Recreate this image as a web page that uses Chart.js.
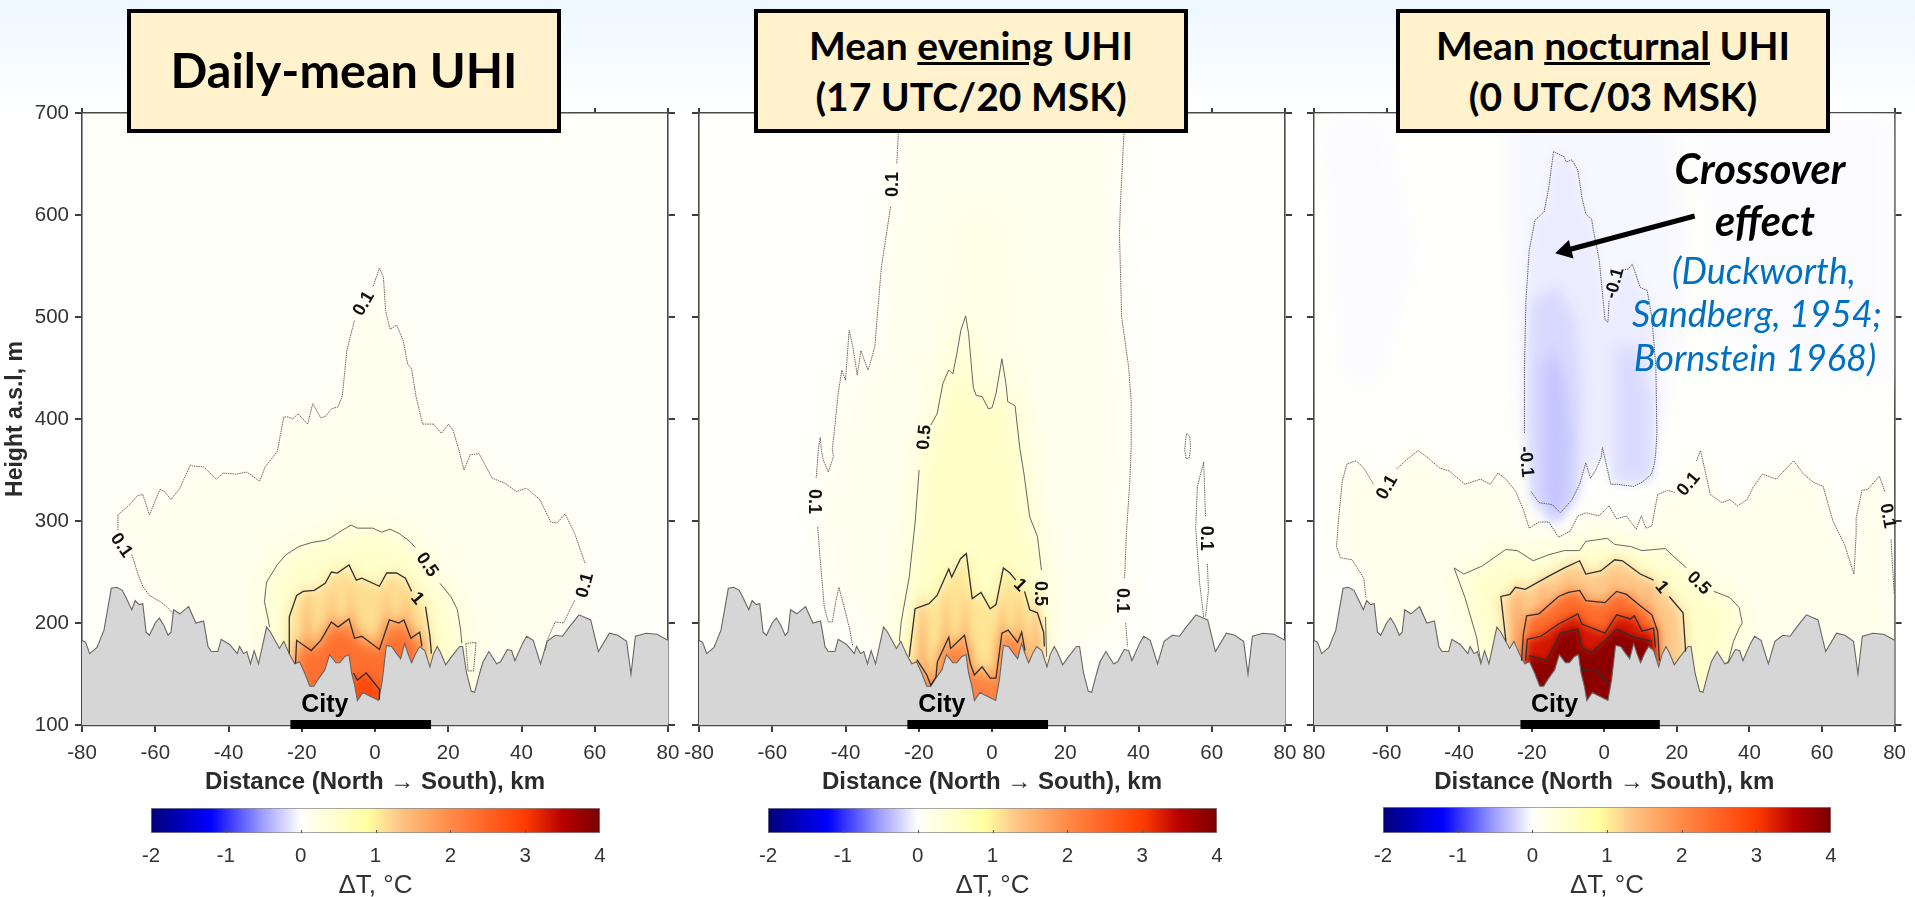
<!DOCTYPE html>
<html>
<head>
<meta charset="utf-8">
<title>UHI cross-sections</title>
<script src="https://cdn.jsdelivr.net/npm/chart.js@4"></script>
<style>
  html, body { margin: 0; padding: 0; width: 1915px; height: 897px; overflow: hidden;
    background: linear-gradient(#eef7ff 0, #ffffff 115px); }
  canvas { position: absolute; }
  .title { position: absolute; top: 9px; height: 116px; width: 426px; box-sizing: content-box;
    border: 4px solid #000; background: #fff2cc; color: #000; text-align: center;
    font: bold 39px/51px Lato, sans-serif; display: flex; align-items: center; justify-content: center; }
  .note { position: absolute; white-space: nowrap; transform: translate(-50%, -50%); font-family: Lato, sans-serif; font-style: italic; }
  .note.big { font-weight: bold; font-size: 41.5px; color: #000; }
  .note.ref { font-size: 36px; color: #0070c0; }
</style>
</head>
<body>
<script>
// ---- shared axes ----
const xTicks = [-80, -60, -40, -20, 0, 20, 40, 60, 80];
const xLabelsDaily = ["-80", "-60", "-40", "-20", "0", "20", "40", "60", "80"];
const xLabelsEvening = ["-80", "-60", "-40", "-20", "0", "20", "40", "60", "80"];
const xLabelsNight = ["80", "-60", "-40", "-20", "0", "20", "40", "60", "80"];
const yTicks = [100, 200, 300, 400, 500, 600, 700];
const cbTicks = [-2, -1, 0, 1, 2, 3, 4];

// ---- colour scale of the bar ----
const cbStops = [-2, -1.2, -0.5, 0, 0.1, 0.5, 0.9, 1.3, 2, 3, 3.5, 4];
const cbColors = ["#00007a", "#0000ff", "#a0a0ff", "#ffffff", "#fffff0", "#ffffcc", "#ffffa0", "#fdc888", "#ff8a48", "#ff3c00", "#b80000", "#7a0000"];

// ---- terrain (km, m a.s.l.) ----
const terrain = [[-80,183],[-79,181],[-77.9,170],[-75.9,176],[-74,193],[-72,234],[-70.5,235],[-69,232],[-67.6,222],[-66.4,213],[-65.5,222],[-64.4,218],[-63.4,219],[-62.5,191],[-61.6,188],[-60,200],[-58.9,205],[-57.7,198],[-56.5,188],[-55.7,191],[-55,213],[-53.3,209],[-50.9,216],[-48.9,200],[-46.8,202],[-45.6,177],[-44.7,172],[-42.9,172],[-42,184],[-39.7,179],[-37.6,170],[-37,177],[-35.9,170],[-35,172],[-34,160],[-33,173],[-31.8,160],[-29.6,196],[-28.5,191],[-26.1,175],[-24.9,182],[-23.3,169],[-21.9,160],[-20.6,162],[-19.2,151],[-17.8,138],[-16.7,138],[-15.3,146],[-13.7,154],[-12.4,169],[-10.7,161],[-9.6,161],[-8.3,167],[-7.1,169],[-6.4,151],[-5.5,138],[-4.8,124],[-3.3,132],[-2.3,130],[-0.6,127],[1,124],[2,144],[3.1,178],[4.5,177],[5.9,170],[7,165],[8.1,180],[9,170],[10,161],[11.1,170],[12.2,177],[13.6,173],[15,157],[15.9,169],[17,177],[17.9,171],[19.3,159],[20.9,167],[23.1,177],[23.9,177],[25,151],[26.3,133],[27.2,132],[28.6,151],[29.5,162],[31.1,172],[33.2,160],[34.3,162],[36.1,174],[37.3,173],[38.2,163],[40.3,180],[41.4,187],[43.2,183],[45.2,160],[47,182],[49.2,188],[51.2,187],[53,196],[55.7,208],[58.9,203],[61,172],[64,190],[66.3,188],[68.7,182],[69.9,150],[71.1,187],[74,190],[77,189],[80,183]];
const cityBar = [[-23.1,100.4],[15.3,100.4]];
const cityLabel = [["City", -13.7, 119.5]];

// ---- contours, daily mean (null = gap for the label) ----
const dailyC01 = [[-55.1,209],[-56.9,216],[-58.7,221],[-61.6,227],[-63.4,236],[-64.8,249],[-66.4,267],null,[-70.2,291],[-70.2,306],[-67,316],[-64.8,325],[-63.4,326],[-61.6,306],[-58.7,331],[-57.5,329],[-55.7,321],[-53.3,332],[-50.4,355],[-49.8,354],[-46.8,353],[-43.3,341],[-41.5,347],[-37.9,346],[-35,348],[-31.5,339],[-30,353],[-26.7,368],[-24.9,402],[-23.7,402],[-22.5,400],[-21,405],[-18.4,395],[-17,415],[-14.8,401],[-13.4,403],[-11.9,410],[-10.1,412],[-8.9,423],[-7.7,467],[-6.5,484],[-5.6,497],null,[-0.5,530],[1.2,548],[2.3,539],[2.9,506],[4.1,488],[5.9,492],[7.7,477],[8.9,454],[10,449],[11.2,422],[13,395],[16,395],[18.1,386],[20.1,395],[21.3,389],[22.8,371],[24.3,350],[26,365],[28.4,366],[32,342],[35.5,337],[38.5,329],[41.4,332],[45,321],[48,299],[49.7,298],[51.9,307],[54.5,288],[57.4,258],null,[54.5,222],[52.7,209],[51.5,200],[49.2,201],[47,183],[46.5,173]];
const dailyC05 = [[-28.8,196],[-29.3,206],[-30.2,221],[-29.6,240],[-26.7,257],[-24.3,267],[-20.8,275],[-17.2,279],[-13.6,281],[-11.9,284],[-8.9,291],[-6.5,296],[-4.8,293],[-0.6,293],[1.8,289],[4.1,292],[6.5,288],[9.5,280],[11,274],null,[17.7,239],[20.7,226],[22.5,213],[23.4,193],[23.7,180]];
const dailyC05b = [[24.8,180],[25.4,153],[26.9,153],[27.6,181],[24.8,180]];
const dailyC1 = [[-23.4,170],[-23.4,206],[-21.4,227],[-19.6,231],[-16.6,232],[-13.6,239],[-11.9,250],[-10.3,249],[-7.1,257],[-5.1,242],[-3.6,244],[1.2,236],[3.2,249],[5.9,249],[8.3,244],[10,231],null,[13.8,216],[15,187],[15.4,170]];
const dailyC2 = [[-21.7,160],[-21.4,183],[-17.4,173],[-14.8,183],[-11.9,201],[-10.1,196],[-7.1,204],[-5.6,185],[-3.6,187],[1.2,174],[3.9,203],[6.5,200],[7.9,203],[9.8,185],[12.2,191],[12.8,177]];
const dailyC3 = [[-5.9,151],[-4.8,144],[-2.4,151],[1.2,135],[1.2,125]];
const dailyStripes = [-18.5, -12, -6.5, 3, 8.5];
const dailyLabels = [["0.1",-3,513,-60],["0.1",-69.3,276,55],["0.5",14.2,257,55],["1",11.5,224,50],["0.1",57.4,237,-75]];

// ---- contours, evening ----
const eveningC01a = [[-25.5,700],[-25.6,678],[-26,650],null,[-27.7,608],[-29.1,575],[-30.2,549],[-31.2,506],[-32,471],[-33.4,453],[-33.9,448],[-35.8,467],[-36.8,443],[-38,471],[-39,487],[-40,438],[-41,448],[-42,425],[-43.1,386],[-43.6,371],[-43.3,363],[-44.7,348],[-46.1,360],[-46.6,370],[-46.9,382],[-47.4,371],[-48,342],null,[-47.6,294],[-46.9,262],[-45.8,216],[-44.7,201],[-43.6,201],[-42.6,222],[-41.8,235],[-40.4,216],[-38.8,193],[-38,177]];
const eveningC01b = [[36.2,700],[36,678],[35.1,614],[34.8,582],[35.4,500],[37.3,451],[38,418],[38,371],[37.6,337],[36.7,288],[36.2,244],null,[36.5,200],[37,177]];
const eveningC01c = [[53.1,386],[54,383],[54.2,372],[53.9,362],[53,361],[52.6,370],[53.1,386]];
const eveningC01d = [[57.8,206],[56.7,239],[55.6,294],[56.1,334],[57.8,358],[58.3,304],null,[58.8,258],[59.1,232],[58.3,206]];
const eveningC05 = [[-25.3,182],[-24.8,201],[-22.6,245],[-21,298],[-19.9,350],null,[-16.7,394],[-15,405],[-13.4,435],[-11.8,448],[-10.7,444],[-9.6,464],[-8.5,487],[-7.2,501],[-6.4,484],[-5.1,431],[-4.3,423],[-2.7,422],[-1,410],[0,411],[1.1,425],[2.7,459],[3.8,435],[4.3,417],[6.3,413],[7.6,371],[8.7,347],[10.3,304],[12.4,285],[13.5,252],null,[14.6,206],[14.9,167]];
const eveningC1 = [[-22.6,167],[-21,214],[-17.2,219],[-15,227],[-11.8,253],[-11,245],[-8.6,263],[-7,268],[-5.4,224],[-3,230],[-0.5,214],[1.1,218],[3.1,254],[4.9,249],[6.5,242],null,[8.9,231],[10.3,213],[12.4,210],[14.1,191],[14.3,177]];
const eveningC2 = [[-20.5,164],[-17.8,149],[-16.7,139],[-15.3,147],[-14.9,162],[-11.8,186],[-11.3,175],[-7.5,188],[-5.9,160],[-4.8,149],[-2.7,157],[-0.5,146],[1.1,146],[2.7,190],[4.4,193],[7,181],[8.1,191],[9,173]];
const eveningColumn = [[-14,620],[7,620],[14,350],[15,150],[-23,150],[-20,350]];
const eveningStripes = [-19, -12.5, -7.5, 3, 7.5, 12];
const eveningLabels = [["0.1",-26.9,630,-90],["0.5",-18.4,382,-85],["0.1",-48.5,319,90],["0.5",13.2,229,90],["1",7.6,237,45],["0.1",35.6,222,90],["0.1",58.3,283,90]];

// ---- contours, night ----
const nightCm01 = [[-14,662],[-15.3,627],[-16.6,603],[-19.1,595],[-20.7,565],[-21.6,516],[-22,451],[-22,386],null,[-20.2,329],[-18,318],[-14.3,316],[-12.1,308],[-8.9,321],[-6.8,336],[-5.1,357],[-3.8,342],[-2.5,349],[-0.9,362],[-0.5,372],[1.8,336],[3.4,336],[8,334],[10.4,338],[13,346],[13.8,356],[14.2,368],[14.5,386],[14.2,451],[13.1,500],[11.8,526],[9.9,529],[7.7,552],[6.6,547],[5,546],null,[1.3,516],[1,495],[0.2,497],[-0.3,516],[-1.4,556],[-3,585],[-3.5,596],[-5.1,601],[-6.2,618],[-7.3,644],[-8.9,654],[-10.5,652],[-11,657],[-14,662]];
const nightC01 = [[-65.7,225],[-66.3,244],[-69.5,262],[-72.7,264],[-73.8,275],[-73.2,303],[-72.2,339],[-70.9,356],[-68.4,359],[-66.3,352],[-63.6,336],null,[-57.2,351],[-54.5,360],[-51.3,369],[-48.6,362],[-45.4,352],[-42.7,349],[-38.4,336],[-34.1,341],[-31.4,336],[-29.3,347],[-27.1,341],[-24.4,329],[-22.3,311],[-20.7,293],[-18,299],[-15.3,299],[-12.6,284],[-9.4,290],[-7.3,305],[-5.1,308],[-1.4,305],[1.3,315],[3.4,302],[6.1,305],[8.8,292],[10.2,305],[11.5,293],[13.1,295],[14.7,326],[17.4,330],[19.5,328],null,[25.4,359],[26.5,369],[27.6,352],[29.2,326],[32.4,318],[34.6,321],[36.7,315],[39.4,321],[41,333],[43.6,346],[47.4,341],[49.5,349],[52.2,359],[54.9,346],[57.6,338],[60.3,334],[63,300],[66.2,277],[68.8,248],[69.4,287],[69.4,303],[71,330],[72.6,331],[75.8,344],[77.4,328],null,[79,282],[79.9,228]];
const nightC05 = [[-34.1,163],[-35.2,186],[-38.4,225],[-41.4,254],[-38.7,248],[-33.6,256],[-30.4,264],[-27.2,272],[-24,271],[-19.6,261],[-15.3,267],[-11,271],[-6.8,271],[-5.1,280],[0.8,283],[2.9,277],[7.2,275],[10.4,271],[16.8,273],[19.5,264],[22.7,254],null,[30.2,231],[34.6,225],[37.2,215],[38,200],[37.2,195],[35.6,182],[34,160]];
const nightC1 = [[-27.1,182],[-28.5,226],[-26,228],[-24.5,235],[-21.8,233],[-15.3,246],[-11,254],[-6.8,261],[-5.1,248],[-1,251],[2.9,262],[5,261],[9.9,248],[13.6,242],null,[17.9,226],[21.7,210],[22.4,172]];
const nightC2 = [[-22.8,163],[-22.3,189],[-21.4,207],[-18,209],[-12.6,226],[-9.9,230],[-6.8,232],[-5.1,222],[0.2,220],[3.4,231],[6.1,228],[9.9,217],[13.1,208],[14.7,192],[15.2,163]];
const nightC3 = [[-21.7,163],[-21.2,184],[-17.5,187],[-12.6,199],[-7.3,209],[-6.2,199],[0.2,190],[3.4,208],[7.2,204],[8.3,207],[10.4,192],[13.6,195],[14.1,176]];
const nightC4 = [[-20.7,168],[-15.9,163],[-12.1,190],[-7.3,194],[-6.2,176],[-3.5,171],[-0.3,181],[3.4,194],[8.3,186],[13.1,182]];
const nightC4b = [[-6.2,153],[-2.5,155],[1.3,140]];
const nightWisp = [[-26,700],[-26,600],[-23,380],[14,380],[22,500],[20,680],[10,700]];
const nightWispLeft = [[-78,700],[-60,700],[-52,560],[-62,430],[-72,430]];
const nightWispRight = [[26,700],[80,700],[80,430],[60,440],[32,480]];
const nightCold1 = [[-20,515],[-13,530],[-8,500],[-6,430],[-7,325],[-14,295],[-20,320],[-21,420]];
const nightCold2 = [[-17,450],[-14,470],[-11,440],[-9,380],[-10,320],[-13,300],[-17,325]];
const nightCold3 = [[3,470],[9,470],[13,420],[13,340],[3,340]];
const nightStripes = [-24, -17, -10, 3, 8, 12];
const nightLabels = [["-0.1",2.9,533,-75],["-0.1",-21.6,358,85],["0.1",-59.8,333,-60],["0.1",23.3,336,-50],["0.5",26,239,45],["1",15.8,235,50],["0.1",78,305,80]];

// ---- helpers ----
function hexRgb(h) {
  return [1, 3, 5].map(i => parseInt(h.slice(i, i + 2), 16));
}

function cmap(v) {
  let i = 0;
  while (i < cbStops.length - 2 && v > cbStops[i + 1]) i++;
  const t = Math.min(1, Math.max(0, (v - cbStops[i]) / (cbStops[i + 1] - cbStops[i])));
  const a = hexRgb(cbColors[i]), b = hexRgb(cbColors[i + 1]);
  return `rgb(${a.map((c, k) => Math.round(c + (b[k] - c) * t)).join(",")})`;
}

const toPts = arr => arr.map(p => p ? { x: p[0], y: p[1] } : { x: NaN, y: NaN });

// filled zone of the temperature field; open contours are closed along the plot floor
function zone(arr, value, blur, closeToFloor = true) {
  const pts = arr.filter(Boolean);
  const data = closeToFloor ? pts.concat([[pts[pts.length - 1][0], 100], [pts[0][0], 100]]) : pts;
  return { data: toPts(data), showLine: false, pointRadius: 0, zoneValue: value, zoneBlur: blur };
}

// warmer vertical streaks seen under the city, tapering upwards
function stripes(centres, top, value) {
  return centres.map(k => zone([[k, top], [k + 1.3, 170], [k + 1.3, 140], [k - 1.3, 140], [k - 1.3, 170]], value, 4, false));
}

function contour(arr, level) {
  const thin = Math.abs(level) < 1;
  return {
    data: toPts(arr), showLine: true, pointRadius: 0, spanGaps: false, tension: 0,
    borderColor: thin ? "#555" : "#2f2f2f",
    borderWidth: thin ? 0.9 : 1.3,
    borderDash: Math.abs(level) < 0.5 ? [1.5, 0.8] : []
  };
}

const zonePlugin = {
  id: "zones",
  beforeDraw(chart) {
    const { ctx, chartArea: a } = chart;
    ctx.save();
    ctx.fillStyle = cmap(chart.options.baseValue);
    ctx.fillRect(a.left, a.top, a.width, a.height);
    ctx.restore();
  },
  beforeDatasetDraw(chart, args) {
    const ds = chart.data.datasets[args.index];
    if (ds.zoneValue === undefined) return;
    const { ctx, chartArea: a, scales } = chart;
    ctx.save();
    ctx.beginPath();
    ctx.rect(a.left, a.top, a.width, a.height);
    ctx.clip();
    ctx.filter = `blur(${ds.zoneBlur}px)`;
    ctx.fillStyle = cmap(ds.zoneValue);
    ctx.beginPath();
    ds.data.forEach((p, i) => {
      const px = scales.x.getPixelForValue(p.x), py = scales.y.getPixelForValue(p.y);
      if (i === 0) ctx.moveTo(px, py); else ctx.lineTo(px, py);
    });
    ctx.closePath();
    ctx.fill();
    ctx.restore();
  }
};

const labelPlugin = {
  id: "contourLabels",
  afterDatasetsDraw(chart) {
    const { ctx, scales } = chart;
    ctx.save();
    ctx.textAlign = "center";
    ctx.textBaseline = "middle";
    ctx.fillStyle = "#111";
    ctx.font = 'bold 18px "Liberation Sans"';
    chart.options.contourLabels.forEach(([t, x, y, ang]) => {
      ctx.save();
      ctx.translate(scales.x.getPixelForValue(x), scales.y.getPixelForValue(y));
      ctx.rotate(ang * Math.PI / 180);
      ctx.fillText(t, 0, 0);
      ctx.restore();
    });
    ctx.font = 'bold 25px "Liberation Sans"';
    ctx.fillStyle = "#000";
    cityLabel.forEach(([t, x, y]) => ctx.fillText(t, scales.x.getPixelForValue(x), scales.y.getPixelForValue(y)));
    ctx.restore();
  }
};

const AXIS_FONT = '"Liberation Sans"';

function panelChart(cfg) {
  const cv = document.createElement("canvas");
  cv.width = cfg.width; cv.height = 707;
  cv.style.left = cfg.left + "px"; cv.style.top = "92px";
  document.body.appendChild(cv);

  const terrainDs = {
    data: toPts(terrain), showLine: true, pointRadius: 0, tension: 0, fill: "start", clip: 0,
    backgroundColor: "#d6d6d6", borderColor: "#666", borderWidth: 1.1
  };
  const cityDs = {
    data: toPts(cityBar), showLine: true, pointRadius: 0, borderColor: "#000",
    borderWidth: 9, borderCapStyle: "butt", clip: false
  };
  // listed bottom to top, Chart.js paints the highest order first
  const stack = [...cfg.zones, terrainDs, ...cfg.lines, ...(cfg.extra || []), cityDs];
  stack.forEach((d, i) => { d.order = stack.length - i; });

  const tickGrid = { drawOnChartArea: false, tickLength: 7, color: "#3c3c3c", lineWidth: 2 };
  const frame = { color: "#4a4a4a", width: 1.6 };

  return new Chart(cv, {
    type: "scatter",
    data: { datasets: stack },
    plugins: [zonePlugin, labelPlugin],
    options: {
      responsive: false, animation: false,
      baseValue: cfg.base, contourLabels: cfg.labels,
      plugins: { legend: { display: false }, tooltip: { enabled: false } },
      scales: {
        x: {
          type: "linear", position: "bottom", min: -80, max: 80,
          afterBuildTicks: s => { s.ticks = xTicks.map(v => ({ value: v })); },
          ticks: { autoSkip: false, maxRotation: 0, padding: 9, color: "#333",
            font: { family: AXIS_FONT, size: 20.5 }, callback: (v, i) => cfg.xLabels[i] },
          grid: tickGrid, border: { ...frame, width: 2.2 },
          title: { display: true, text: "Distance (North \u2192 South), km", color: "#2b2b2b",
            font: { family: AXIS_FONT, size: 24, weight: "bold" }, padding: { top: 2, bottom: 2 } },
          afterFit: s => { s.height = 74; }
        },
        xTop: {
          type: "linear", position: "top", min: -80, max: 80,
          afterBuildTicks: s => { s.ticks = xTicks.map(v => ({ value: v })); },
          ticks: { display: false }, grid: { ...tickGrid, tickLength: 5 }, border: frame,
          afterFit: s => { s.height = 21; }
        },
        y: {
          type: "linear", position: "left", min: 100, max: 700,
          afterBuildTicks: s => { s.ticks = yTicks.map(v => ({ value: v })); },
          ticks: { display: cfg.showY, padding: 6, color: "#333", font: { family: AXIS_FONT, size: 20.5 } },
          grid: tickGrid, border: frame,
          title: { display: cfg.showY, text: "Height a.s.l, m", color: "#2b2b2b",
            font: { family: AXIS_FONT, size: 23, weight: "bold" }, padding: { top: 2, bottom: 0 } },
          afterFit: s => { s.width = cfg.yWidth; }
        },
        yRight: {
          type: "linear", position: "right", min: 100, max: 700,
          afterBuildTicks: s => { s.ticks = yTicks.map(v => ({ value: v })); },
          ticks: { display: false }, grid: tickGrid, border: frame,
          afterFit: s => { s.width = cfg.rightWidth; }
        }
      }
    }
  });
}

function colorBar(left, width, top) {
  const cv = document.createElement("canvas");
  cv.width = width + 60; cv.height = 901 - top;
  cv.style.left = (left - 30) + "px"; cv.style.top = top + "px";
  document.body.appendChild(cv);

  const inBarTicks = {
    id: "inBarTicks",
    afterDatasetsDraw(chart) {
      const { ctx, chartArea: a, scales } = chart;
      ctx.save();
      ctx.strokeStyle = "#555";
      cbTicks.slice(1, -1).forEach(v => {
        const px = Math.round(scales.x.getPixelForValue(v)) + 0.5;
        ctx.beginPath(); ctx.moveTo(px, a.bottom); ctx.lineTo(px, a.bottom - 3); ctx.stroke();
      });
      ctx.restore();
    }
  };

  return new Chart(cv, {
    type: "bar",
    data: {
      labels: ["\u0394T"],
      datasets: [{
        data: [[cbTicks[0], cbTicks[cbTicks.length - 1]]],
        barPercentage: 1, categoryPercentage: 1, borderWidth: 1, borderColor: "#8a8a8a", borderSkipped: false,
        backgroundColor: ctx => {
          const { chart } = ctx;
          if (!chart.chartArea) return "#fff";
          const sx = chart.scales.x;
          const g = chart.ctx.createLinearGradient(sx.getPixelForValue(-2), 0, sx.getPixelForValue(4), 0);
          cbStops.forEach((s, i) => g.addColorStop((s + 2) / 6, cbColors[i]));
          return g;
        }
      }]
    },
    plugins: [inBarTicks],
    options: {
      indexAxis: "y", responsive: false, animation: false,
      layout: { padding: { left: 30, right: 30 } },
      plugins: { legend: { display: false }, tooltip: { enabled: false } },
      scales: {
        y: { display: false },
        x: {
          type: "linear", min: -2, max: 4,
          afterBuildTicks: s => { s.ticks = cbTicks.map(v => ({ value: v })); },
          ticks: { autoSkip: false, maxRotation: 0, padding: 11, color: "#333", font: { family: AXIS_FONT, size: 20.5 } },
          grid: { drawOnChartArea: false, drawTicks: false }, border: { display: false },
          title: { display: true, text: "\u0394T, \u00b0C", color: "#333", font: { family: AXIS_FONT, size: 26 }, padding: 0 },
          afterFit: s => { s.height = 68; }
        }
      }
    }
  });
}

// ---- panels ----
panelChart({
  left: 0, width: 698, yWidth: 82, rightWidth: 30, showY: true, base: 0.04, xLabels: xLabelsDaily, labels: dailyLabels,
  zones: [zone(dailyC01, 0.13, 14), zone(dailyC05, 0.5, 14), zone(dailyC1, 1.15, 7), ...stripes(dailyStripes, 240, 1.6), zone(dailyC2, 2.35, 8), zone(dailyC3, 2.85, 4)],
  lines: [contour(dailyC01, 0.1), contour(dailyC05, 0.5), contour(dailyC05b, 0.1), contour(dailyC1, 1), contour(dailyC2, 2), contour(dailyC3, 3)]
});

const eveningBand = eveningC01a.filter(Boolean).concat(eveningC01b.filter(Boolean).reverse());
panelChart({
  left: 640, width: 675, yWidth: 59, rightWidth: 30, showY: false, base: 0.03, xLabels: xLabelsEvening, labels: eveningLabels,
  zones: [zone(eveningBand, 0.1, 12, false), zone(eveningColumn, 0.2, 20, false), zone(eveningC05, 0.55, 12), zone(eveningC1, 1.1, 7), ...stripes(eveningStripes, 235, 1.55), zone(eveningC2, 2.1, 7)],
  lines: [contour(eveningC01a, 0.1), contour(eveningC01b, 0.1), contour(eveningC01c, 0.1), contour(eveningC01d, 0.1), contour(eveningC05, 0.5), contour(eveningC1, 1), contour(eveningC2, 2)]
});

panelChart({
  left: 1255, width: 660, yWidth: 59, rightWidth: 15, showY: false, base: 0.03, xLabels: xLabelsNight, labels: nightLabels,
  zones: [zone(nightC01, 0.14, 8), zone(nightWispLeft, -0.02, 14, false), zone(nightWispRight, -0.02, 14, false), zone(nightWisp, -0.04, 12, false), zone(nightCm01, -0.1, 4, false), zone(nightCold1, -0.2, 6, false), zone(nightCold2, -0.3, 6, false), zone(nightCold3, -0.19, 6, false),
    zone(nightC05, 0.5, 12), zone(nightC1, 1.3, 7), ...stripes(nightStripes, 250, 1.75), zone(nightC2, 2.4, 6), zone(nightC3, 3.3, 5), zone(nightC4, 3.85, 3)],
  lines: [contour(nightCm01, -0.1), contour(nightC01, 0.1), contour(nightC05, 0.5), contour(nightC1, 1), contour(nightC2, 2), contour(nightC3, 3), contour(nightC4, 3), contour(nightC4b, 3)],
  extra: [{
    data: toPts([[24.9,599],[-10.6,565.2]]), showLine: true, borderColor: "#000", borderWidth: 5, borderCapStyle: "butt",
    pointStyle: "triangle", pointRadius: [0, 11], pointRotation: -104, pointBackgroundColor: "#000", pointBorderWidth: 0
  }]
});

colorBar(151, 449, 808);
colorBar(768, 449, 808);
colorBar(1383, 448, 807);

// ---- boxes and notes, real text on top of the canvases ----
const titleBoxes = [
  [127, '<span style="font-size:48.5px">Daily-mean UHI</span>'],
  [754, 'Mean <u>evening</u> UHI<br>(17 UTC/20 MSK)'],
  [1396, 'Mean <u>nocturnal</u> UHI<br>(0 UTC/03 MSK)']
];
titleBoxes.forEach(([x, html]) => {
  const d = document.createElement("div");
  d.className = "title";
  d.style.left = x + "px";
  d.innerHTML = `<div>${html}</div>`;
  document.body.appendChild(d);
});

const notes = [
  ["big", 1760, 168, "Crossover"], ["big", 1765, 220, "effect"],
  ["ref", 1764, 270, "(Duckworth,"], ["ref", 1757, 313, "Sandberg, 1954;"], ["ref", 1755, 357, "Bornstein 1968)"]
];
notes.forEach(([cls, x, y, text]) => {
  const d = document.createElement("div");
  d.className = "note " + cls;
  d.style.left = x + "px"; d.style.top = y + "px";
  d.textContent = text;
  document.body.appendChild(d);
});
</script>
</body>
</html>
